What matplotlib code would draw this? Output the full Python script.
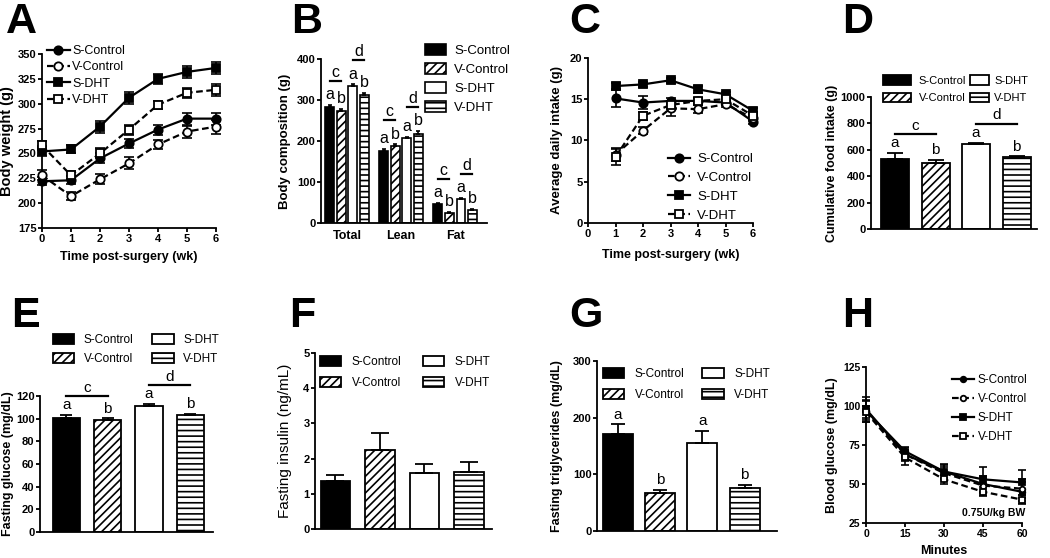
import numpy as np
import matplotlib
matplotlib.use('Agg')
import matplotlib.pyplot as plt
from matplotlib import font_manager

W, H = 1050, 558

installed = {f.name for f in font_manager.fontManager.ttflist}
FONT = 'Liberation Sans Narrow' if 'Liberation Sans Narrow' in installed else 'Liberation Sans'
plt.rcParams['font.family'] = [FONT, 'DejaVu Sans']
plt.rcParams['font.weight'] = 'bold'
plt.rcParams['axes.labelweight'] = 'bold'
plt.rcParams['axes.linewidth'] = 1.3
plt.rcParams['hatch.linewidth'] = 1.2

groups = ['S-Control', 'V-Control', 'S-DHT', 'V-DHT']

# A: body weight
weeks = [0, 1, 2, 3, 4, 5, 6]
bw = {
    'S-Control': [222, 223, 245, 260, 274, 285, 285],
    'V-Control': [228, 207, 224, 240, 259, 272, 277],
    'S-DHT': [252, 254, 277, 306, 325, 332, 336],
    'V-DHT': [258, 228, 250, 274, 299, 311, 314],
}
bw_err = {
    'S-Control': [4, 4, 5, 5, 5, 6, 6],
    'V-Control': [5, 4, 5, 6, 5, 6, 7],
    'S-DHT': [5, 4, 6, 6, 5, 6, 6],
    'V-DHT': [5, 4, 5, 5, 4, 5, 6],
}

# B: body composition
comp_cats = ['Total', 'Lean', 'Fat']
comp = {
    'S-Control': [283, 175, 47],
    'V-Control': [272, 188, 25],
    'S-DHT': [333, 207, 58],
    'V-DHT': [312, 218, 32],
}
comp_err = {
    'S-Control': [5, 5, 2],
    'V-Control': [6, 4, 2],
    'S-DHT': [5, 3, 3],
    'V-DHT': [5, 6, 3],
}

# C: average daily intake
intake_weeks = [1, 2, 3, 4, 5, 6]
intake = {
    'S-Control': [15.1, 14.6, 14.8, 14.8, 14.6, 12.3],
    'V-Control': [8.3, 11.2, 13.9, 13.8, 14.4, 12.7],
    'S-DHT': [16.6, 16.8, 17.3, 16.2, 15.6, 13.6],
    'V-DHT': [8.0, 13.0, 14.3, 14.8, 15.0, 13.0],
}
intake_err = {
    'S-Control': [1.0, 0.8, 0.4, 0.4, 0.3, 0.3],
    'V-Control': [0.8, 0.4, 0.9, 0.5, 0.3, 0.3],
    'S-DHT': [0.4, 0.3, 0.3, 0.4, 0.3, 0.3],
    'V-DHT': [1.0, 0.5, 0.5, 0.4, 0.4, 0.4],
}

# D-G: single bar panels
food = [533, 503, 645, 542]
food_err = [42, 18, 10, 8]
glucose = [101, 99, 111, 103]
glucose_err = [2.2, 1.2, 2.0, 1.2]
insulin = [1.37, 2.25, 1.58, 1.63]
insulin_err = [0.17, 0.48, 0.27, 0.26]
trig = [171, 67, 156, 76]
trig_err = [17, 5, 20, 6]

# H: insulin tolerance test
minutes = [0, 15, 30, 45, 60]
itt = {
    'S-Control': [97, 71, 58, 50, 45],
    'V-Control': [97, 69, 57, 49, 47],
    'S-DHT': [98, 69, 58, 53, 51],
    'V-DHT': [96, 67, 53, 45, 40],
}
itt_err = {
    'S-Control': [6, 3, 4, 5, 6],
    'V-Control': [7, 4, 4, 5, 6],
    'S-DHT': [8, 3, 5, 8, 8],
    'V-DHT': [4, 5, 3, 3, 3],
}

bar_letters = ['a', 'b', 'a', 'b']
pair_letters = ['c', 'd']

line_style = {
    'S-Control': dict(marker='o', mfc='k', ls='-'),
    'V-Control': dict(marker='o', mfc='w', ls=(0, (3, 1.6))),
    'S-DHT': dict(marker='s', mfc='k', ls='-'),
    'V-DHT': dict(marker='s', mfc='w', ls=(0, (3, 1.6))),
}
bar_style = {
    'S-Control': dict(facecolor='k', hatch=None),
    'V-Control': dict(facecolor='w', hatch='////'),
    'S-DHT': dict(facecolor='w', hatch=None),
    'V-DHT': dict(facecolor='w', hatch='---'),
}

fig = plt.figure(figsize=(W / 100, H / 100), dpi=100)


def add_ax(l, t, r, b):
    return fig.add_axes([l / W, 1 - b / H, (r - l) / W, (b - t) / H])


def style(ax, size=8):
    ax.spines['top'].set_visible(False)
    ax.spines['right'].set_visible(False)
    ax.tick_params(direction='out', length=3, width=1.3, labelsize=size, pad=1)


def px_dy(ax, px):
    y0, y1 = ax.get_ylim()
    return px * (y1 - y0) / (ax.get_position().height * H)


def ylabel(ax, text, xpx, size=9.5, weight='bold'):
    ax.set_ylabel(text, fontsize=size, fontweight=weight, va='center')
    pos = ax.get_position()
    ax.yaxis.set_label_coords((xpx / W - pos.x0) / pos.width, 0.5)


def xlabel(ax, text, ypx, size=9):
    ax.set_xlabel(text, fontsize=size, va='center')
    pos = ax.get_position()
    ax.xaxis.set_label_coords(0.5, ((1 - ypx / H) - pos.y0) / pos.height)


def legend(ax, handles, lpx, tpx, ncol=1, size=8, keep=False, **kw):
    leg = ax.legend(handles=handles, loc='upper left', bbox_to_anchor=(lpx / W, 1 - tpx / H),
                    bbox_transform=fig.transFigure, ncol=ncol, frameon=False, borderpad=0,
                    borderaxespad=0, prop=dict(size=size, weight='normal'), **kw)
    if keep:
        ax.add_artist(leg)
    return leg


def line_panel(ax, x, data, err, ms=6, capsize=3.5):
    handles = []
    for g in groups:
        ax.errorbar(x, data[g], yerr=err[g], fmt='none', ecolor='k', elinewidth=1.2,
                    capsize=capsize, capthick=1.2, zorder=2, clip_on=False)
        h, = ax.plot(x, data[g], color='k', lw=1.6, ms=ms, mec='k', mew=1.3,
                     label=g, zorder=3, clip_on=False, **line_style[g])
        handles.append(h)
    return handles


def bars(ax, x, vals, errs, width, capsize):
    handles = []
    for i, g in enumerate(groups):
        b = ax.bar(x[i], vals[i], width, edgecolor='k', linewidth=1.3, label=g,
                   zorder=2, **bar_style[g])
        handles.append(b)
    ax.errorbar(x, vals, yerr=[np.zeros(len(errs)), errs], fmt='none', ecolor='k',
                elinewidth=1.3, capsize=capsize, capthick=1.3, zorder=3)
    return handles


def significance(ax, x, tops, letters, pairs, size=11, line_px=19):
    for xi, t, lab in zip(x, tops, letters):
        ax.annotate(lab, (xi, t), xytext=(0, 2), textcoords='offset points',
                    ha='center', va='bottom', fontsize=size, fontweight='normal',
                    annotation_clip=False)
    for k, lab in enumerate(pairs):
        i, j = 2 * k, 2 * k + 1
        y = max(tops[i], tops[j]) + px_dy(ax, line_px)
        ax.plot([x[i], x[j]], [y, y], color='k', lw=1.6, clip_on=False)
        ax.annotate(lab, ((x[i] + x[j]) / 2, y), xytext=(0, 1), textcoords='offset points',
                    ha='center', va='bottom', fontsize=size, fontweight='normal',
                    annotation_clip=False)


# ---- A
ax = add_ax(42, 54, 216, 228)
style(ax)
hA = line_panel(ax, weeks, bw, bw_err)
ax.set_xlim(0, 6)
ax.set_ylim(175, 350)
ax.set_xticks(weeks)
ax.set_yticks(np.arange(175, 351, 25))
ylabel(ax, 'Body weight (g)', 7, size=10.5)
xlabel(ax, 'Time post-surgery (wk)', 257)
legend(ax, hA, 47, 45, size=9, handlelength=1.8, handletextpad=0.2, labelspacing=0.35)

# ---- B
ax = add_ax(321, 59, 487, 223)
style(ax)
ax.set_ylim(0, 400)
ax.set_xlim(-0.48, 2.59)
centers = np.arange(len(comp_cats))
offsets = np.array([-1.5, -0.5, 0.5, 1.5]) * 0.213
hB = []
for i, g in enumerate(groups):
    b = ax.bar(centers + offsets[i], comp[g], 0.16, edgecolor='k', linewidth=1.2,
               label=g, zorder=2, **bar_style[g])
    ax.errorbar(centers + offsets[i], comp[g], yerr=[np.zeros(3), comp_err[g]], fmt='none',
                ecolor='k', elinewidth=1.2, capsize=1.5, capthick=1.2, zorder=3)
    hB.append(b)
for c in range(len(comp_cats)):
    xs = centers[c] + offsets
    tops = [comp[g][c] + comp_err[g][c] for g in groups]
    significance(ax, xs, tops, bar_letters, pair_letters, size=11.5, line_px=24)
ax.set_xticks(centers)
ax.set_xticklabels(comp_cats, fontsize=9)
ax.tick_params(axis='x', length=0, pad=5)
ax.set_yticks(np.arange(0, 401, 100))
ylabel(ax, 'Body composition (g)', 285)
legend(ax, hB, 425, 44, size=9.5, handlelength=1.6, handleheight=0.9,
       handletextpad=0.6, labelspacing=0.45)

# ---- C
ax = add_ax(588, 58, 753, 223)
style(ax)
hC = line_panel(ax, intake_weeks, intake, intake_err)
ax.set_xlim(0, 6)
ax.set_ylim(0, 20)
ax.set_xticks(range(0, 7))
ax.set_yticks(np.arange(0, 21, 5))
ylabel(ax, 'Average daily intake (g)', 557)
xlabel(ax, 'Time post-surgery (wk)', 255)
legend(ax, hC, 668, 153, size=9.5, handlelength=1.7, handletextpad=0.5, labelspacing=0.5)

# ---- D
x4 = np.arange(4)
ax = add_ax(871, 97, 1037, 229)
style(ax)
ax.set_ylim(0, 1000)
ax.set_xlim(-0.59, 3.5)
hD = bars(ax, x4, food, food_err, 0.69, 6)
significance(ax, x4, [v + e for v, e in zip(food, food_err)], bar_letters, pair_letters)
ax.set_xticks([])
ax.set_yticks(np.arange(0, 1001, 200))
ylabel(ax, 'Cumulative food intake (g)', 832, size=9)
legend(ax, hD[:2], 883, 75, size=8, keep=True, handlelength=2.5, handleheight=0.95,
       handletextpad=0.7, labelspacing=0.65)
legend(ax, hD[2:], 970, 75, size=8, handlelength=1.7, handleheight=0.95,
       handletextpad=0.5, labelspacing=0.65)

# ---- E
ax = add_ax(40, 396, 213, 532)
style(ax)
ax.set_ylim(0, 120)
ax.set_xlim(-0.64, 3.55)
hE = bars(ax, x4, glucose, glucose_err, 0.66, 4.5)
significance(ax, x4, [v + e for v, e in zip(glucose, glucose_err)], bar_letters, pair_letters)
ax.set_xticks([])
ax.set_yticks(np.arange(0, 121, 20))
ylabel(ax, 'Fasting glucose (mg/dL)', 8, size=9)
legend(ax, hE, 53, 334, ncol=2, size=8.5, handlelength=1.8, handleheight=0.9,
       handletextpad=0.8, labelspacing=0.6, columnspacing=1.6)

# ---- F
ax = add_ax(315, 353, 492, 529)
style(ax)
ax.set_ylim(0, 5)
ax.set_xlim(-0.46, 3.52)
hF = bars(ax, x4, insulin, insulin_err, 0.67, 6.5)
ax.set_xticks([])
ax.set_yticks(np.arange(0, 6, 1))
ylabel(ax, 'Fasting insulin (ng/mL)', 285, size=11, weight='normal')
legend(ax, hF, 320, 356, ncol=2, size=8.5, handlelength=1.8, handleheight=0.9,
       handletextpad=0.9, labelspacing=0.8, columnspacing=1.8)

# ---- G
ax = add_ax(597, 361, 777, 531)
style(ax)
ax.set_ylim(0, 300)
ax.set_xlim(-0.5, 3.77)
hG = bars(ax, x4, trig, trig_err, 0.71, 5)
significance(ax, x4, [v + e for v, e in zip(trig, trig_err)], bar_letters, [], size=11)
ax.set_xticks([])
ax.set_yticks(np.arange(0, 301, 100))
ylabel(ax, 'Fasting triglycerides (mg/dL)', 557, size=9)
legend(ax, hG, 603, 368, ncol=2, size=8.5, handlelength=1.8, handleheight=0.9,
       handletextpad=0.9, labelspacing=0.8, columnspacing=1.5)

# ---- H
ax = add_ax(866, 367, 1022, 523)
style(ax, size=7.5)
hH = line_panel(ax, minutes, itt, itt_err, ms=4, capsize=3)
ax.set_xlim(0, 60)
ax.set_ylim(25, 125)
ax.set_xticks(minutes)
ax.set_yticks(np.arange(25, 126, 25))
ylabel(ax, 'Blood glucose (mg/dL)', 832, size=9)
xlabel(ax, 'Minutes', 551, size=9)
ax.text(1.02, 0.065, '0.75U/kg BW', transform=ax.transAxes, ha='right', va='center',
        fontsize=7.5)
legend(ax, hH, 952, 374, size=8.5, handlelength=1.9, handletextpad=0.3, labelspacing=0.6)

# panel letters
for lab, lx, ly in [('A', 6, 2), ('B', 291, 2), ('C', 569, 2), ('D', 842, 2),
                    ('E', 11, 296), ('F', 289, 296), ('G', 569, 296), ('H', 842, 296)]:
    fig.text(lx / W, 1 - ly / H, lab, fontsize=31, fontweight='bold',
             family='Liberation Sans', ha='left', va='top')

fig.savefig('out.png', dpi=100)
